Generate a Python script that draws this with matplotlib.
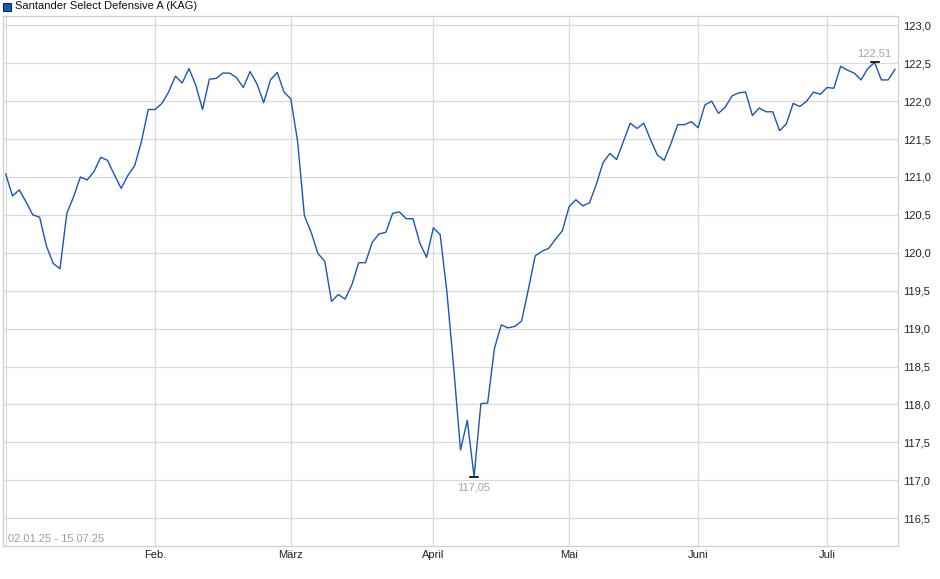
import matplotlib
matplotlib.use("Agg")
import matplotlib.pyplot as plt
from matplotlib.patches import Rectangle
import numpy as np

plt.rcParams['font.family'] = ['Liberation Sans', 'DejaVu Sans']

title = "Santander Select Defensive A (KAG)"
date_range = "02.01.25 - 15.07.25"

values = [
    121.04, 120.75, 120.83, 120.67, 120.50, 120.47, 120.09, 119.86, 119.79, 120.52,
    120.74, 121.00, 120.96, 121.07, 121.26, 121.22, 121.03, 120.85, 121.02, 121.15,
    121.47, 121.89, 121.89, 121.97, 122.12, 122.33, 122.24, 122.43, 122.21, 121.89,
    122.29, 122.30, 122.37, 122.37, 122.31, 122.18, 122.39, 122.23, 121.98, 122.28,
    122.38, 122.12, 122.03, 121.47, 120.49, 120.27, 119.99, 119.89, 119.36, 119.45,
    119.39, 119.58, 119.87, 119.87, 120.14, 120.25, 120.27, 120.52, 120.54, 120.45,
    120.45, 120.13, 119.94, 120.33, 120.24, 119.48, 118.48, 117.40, 117.79, 117.05,
    118.01, 118.02, 118.74, 119.05, 119.01, 119.03, 119.10, 119.52, 119.96, 120.02,
    120.06, 120.18, 120.29, 120.61, 120.70, 120.62, 120.66, 120.90, 121.19, 121.31,
    121.23, 121.47, 121.71, 121.64, 121.71, 121.49, 121.29, 121.22, 121.44, 121.69,
    121.69, 121.73, 121.65, 121.95, 122.00, 121.84, 121.92, 122.07, 122.11, 122.12,
    121.81, 121.91, 121.86, 121.86, 121.61, 121.70, 121.97, 121.93, 122.00, 122.12,
    122.09, 122.18, 122.17, 122.46, 122.41, 122.37, 122.28, 122.43, 122.51, 122.28,
    122.28, 122.42,
]

month_labels = ["Feb.", "März", "April", "Mai", "Juni", "Juli"]
month_index = [22, 42, 63, 83, 102, 121]
y_ticks = [116.5, 117.0, 117.5, 118.0, 118.5, 119.0, 119.5, 120.0, 120.5,
           121.0, 121.5, 122.0, 122.5, 123.0]

W, H = 940, 579
fig = plt.figure(figsize=(W / 100, H / 100), dpi=100)
fig.patch.set_facecolor("white")

L, R, T, B = 3, 898, 16, 546
ax = fig.add_axes([L / W, 1 - B / H, (R - L) / W, (B - T) / H])

x = np.arange(len(values))
y = np.array(values)

grid_c = "#dadada"
ax.set_xlim(-0.4, 131.45)
ax.set_ylim(116.134, 123.123)

for yt in y_ticks:
    ax.axhline(yt, color=grid_c, lw=0.9, zorder=1)
for xm in [0] + month_index:
    ax.axvline(xm, color=grid_c, lw=0.9, zorder=1)

ax.plot(x, y, color="#1a56b8", lw=1.0, zorder=3)

# min / max markers
imin = int(np.argmin(y))
imax = int(np.argmax(y))
ax.plot([imin - 0.6, imin + 0.6], [y[imin], y[imin]], color="black", lw=1.2, zorder=4)
ax.plot([imax - 0.6, imax + 0.6], [y[imax], y[imax]], color="black", lw=1.2, zorder=4)
ann_c = "#a8a49e"
ax.annotate(f"{y[imin]:.2f}".replace(".", ","), (imin, y[imin]), xytext=(0, -4),
            textcoords="offset points", ha="center", va="top", fontsize=8, color=ann_c)
ax.annotate(f"{y[imax]:.2f}".replace(".", ","), (imax, y[imax]), xytext=(0, 3),
            textcoords="offset points", ha="center", va="bottom", fontsize=8, color=ann_c)

ax.text(0.006, 0.013, date_range, transform=ax.transAxes, ha="left", va="center",
        fontsize=8, color="#a39d93")

ax.yaxis.tick_right()
ax.set_yticks(y_ticks)
ax.set_yticklabels([f"{v:.1f}".replace(".", ",") for v in y_ticks])
ax.set_xticks(month_index)
ax.set_xticklabels(month_labels)
ax.tick_params(axis="both", length=0, labelsize=8, colors="#222222")
ax.tick_params(axis="y", pad=4)
ax.tick_params(axis="x", pad=3)
for s in ax.spines.values():
    s.set_color("#cfcfcf")
    s.set_linewidth(0.9)

# legend
fig.add_artist(Rectangle((3 / W, 1 - 11 / H), 8 / W, 8 / H, transform=fig.transFigure,
                         facecolor="#1a56b8", edgecolor="#0d2a66", lw=0.8))
fig.text(15 / W, 1 - 6 / H, title, ha="left", va="center", fontsize=8, color="#111111")

fig.savefig("out.png", dpi=100)
